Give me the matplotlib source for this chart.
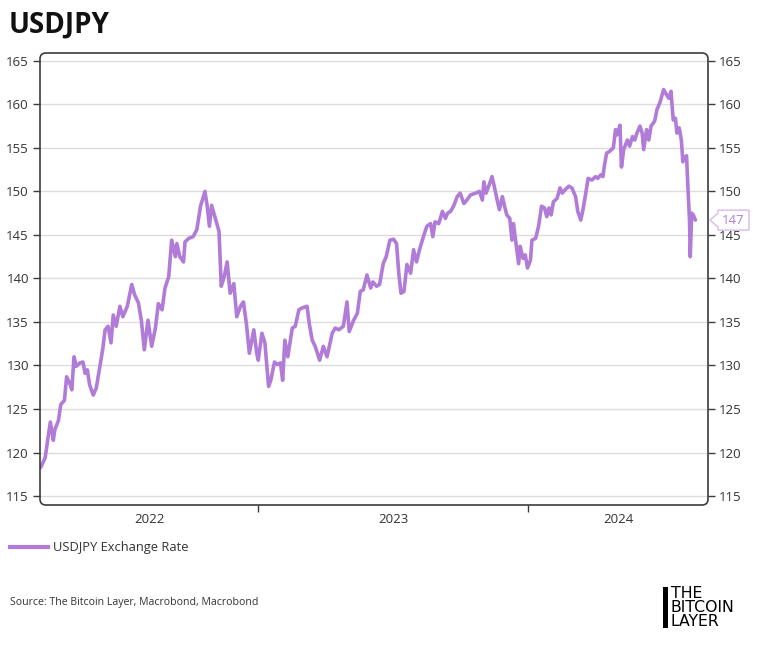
import matplotlib
matplotlib.use("Agg")
import matplotlib.pyplot as plt
import pandas as pd
from matplotlib.patches import FancyBboxPatch, Polygon, Rectangle
from matplotlib.transforms import IdentityTransform, blended_transform_factory
from matplotlib.lines import Line2D

plt.rcParams['font.family'] = ['Open Sans', 'DejaVu Sans']

title = "USDJPY"
series_name = "USDJPY Exchange Rate"
source_text = "Source: The Bitcoin Layer, Macrobond, Macrobond"
logo_lines = ["THE", "BITCOIN", "LAYER"]
yticks = [115, 120, 125, 130, 135, 140, 145, 150, 155, 160, 165]
year_labels = ["2022", "2023", "2024"]

dates = [
    "2022-03-13", "2022-03-19", "2022-03-23", "2022-03-26", "2022-03-30", "2022-04-01",
    "2022-04-06", "2022-04-09", "2022-04-14", "2022-04-17", "2022-04-21", "2022-04-24",
    "2022-04-27", "2022-04-30", "2022-05-05", "2022-05-09", "2022-05-12", "2022-05-15",
    "2022-05-18", "2022-05-23", "2022-05-27", "2022-06-01", "2022-06-05", "2022-06-08",
    "2022-06-12", "2022-06-16", "2022-06-19", "2022-06-23", "2022-06-28", "2022-07-02",
    "2022-07-08", "2022-07-14", "2022-07-18", "2022-07-23", "2022-07-27", "2022-07-31",
    "2022-08-05", "2022-08-10", "2022-08-15", "2022-08-19", "2022-08-24", "2022-08-28",
    "2022-09-02", "2022-09-06", "2022-09-11", "2022-09-13", "2022-09-17", "2022-09-22",
    "2022-09-24", "2022-09-29", "2022-10-05", "2022-10-10", "2022-10-15", "2022-10-21",
    "2022-10-24", "2022-10-27", "2022-10-30", "2022-11-02", "2022-11-06", "2022-11-09",
    "2022-11-12", "2022-11-16", "2022-11-20", "2022-11-24", "2022-11-29", "2022-12-03",
    "2022-12-08", "2022-12-12", "2022-12-16", "2022-12-20", "2022-12-26", "2022-12-30",
    "2023-01-01", "2023-01-06", "2023-01-10", "2023-01-15", "2023-01-18", "2023-01-23",
    "2023-01-27", "2023-01-31", "2023-02-03", "2023-02-06", "2023-02-10", "2023-02-16",
    "2023-02-20", "2023-02-25", "2023-03-01", "2023-03-08", "2023-03-11", "2023-03-15",
    "2023-03-19", "2023-03-25", "2023-03-30", "2023-04-04", "2023-04-11", "2023-04-15",
    "2023-04-20", "2023-04-26", "2023-05-01", "2023-05-04", "2023-05-10", "2023-05-15",
    "2023-05-19", "2023-05-23", "2023-05-28", "2023-06-02", "2023-06-05", "2023-06-10",
    "2023-06-14", "2023-06-19", "2023-06-23", "2023-06-28", "2023-07-03", "2023-07-07",
    "2023-07-10", "2023-07-13", "2023-07-17", "2023-07-21", "2023-07-26", "2023-07-30",
    "2023-08-03", "2023-08-07", "2023-08-13", "2023-08-17", "2023-08-22", "2023-08-25",
    "2023-08-28", "2023-09-02", "2023-09-07", "2023-09-11", "2023-09-14", "2023-09-18",
    "2023-09-22", "2023-09-27", "2023-10-01", "2023-10-06", "2023-10-10", "2023-10-15",
    "2023-10-22", "2023-10-27", "2023-10-31", "2023-11-02", "2023-11-05", "2023-11-09",
    "2023-11-13", "2023-11-16", "2023-11-20", "2023-11-23", "2023-11-27", "2023-11-30",
    "2023-12-03", "2023-12-07", "2023-12-10", "2023-12-12", "2023-12-16", "2023-12-19",
    "2023-12-21", "2023-12-25", "2023-12-28", "2023-12-31", "2024-01-04", "2024-01-06",
    "2024-01-11", "2024-01-15", "2024-01-19", "2024-01-23", "2024-01-26", "2024-01-29",
    "2024-02-01", "2024-02-04", "2024-02-09", "2024-02-13", "2024-02-16", "2024-02-20",
    "2024-02-25", "2024-02-29", "2024-03-05", "2024-03-08", "2024-03-12", "2024-03-15",
    "2024-03-18", "2024-03-22", "2024-03-27", "2024-04-01", "2024-04-04", "2024-04-08",
    "2024-04-11", "2024-04-13", "2024-04-16", "2024-04-20", "2024-04-25", "2024-04-28",
    "2024-04-30", "2024-05-04", "2024-05-06", "2024-05-09", "2024-05-14", "2024-05-17",
    "2024-05-21", "2024-05-24", "2024-05-27", "2024-05-31", "2024-06-03", "2024-06-05",
    "2024-06-09", "2024-06-12", "2024-06-15", "2024-06-20", "2024-06-23", "2024-06-27",
    "2024-07-02", "2024-07-06", "2024-07-09", "2024-07-12", "2024-07-15", "2024-07-18",
    "2024-07-20", "2024-07-23", "2024-07-26", "2024-07-28", "2024-07-30", "2024-08-02",
    "2024-08-04", "2024-08-06", "2024-08-07", "2024-08-09", "2024-08-11", "2024-08-14",
]

values = [
    118.3, 119.4, 121.8, 123.5, 121.4, 122.6,
    123.7, 125.5, 126.0, 128.7, 128.0, 127.2,
    131.0, 129.9, 130.3, 130.4, 129.1, 129.5,
    127.8, 126.6, 127.4, 129.9, 132.0, 134.1,
    134.5, 132.6, 135.8, 134.5, 136.8, 135.6,
    136.8, 139.3, 138.1, 137.2, 135.2, 131.8,
    135.2, 132.2, 134.3, 137.1, 136.4, 138.9,
    140.2, 144.4, 142.5, 144.0, 142.5, 141.9,
    144.2, 144.6, 144.8, 145.6, 148.3, 150.0,
    148.3, 146.0, 148.4, 147.5, 146.3, 145.4,
    139.1, 140.2, 141.9, 138.3, 139.4, 135.6,
    136.8, 137.3, 134.8, 131.4, 134.1, 131.4,
    130.6, 133.7, 132.6, 127.6, 128.3, 130.4,
    130.1, 130.3, 128.3, 132.9, 131.0, 134.3,
    134.5, 136.4, 136.6, 136.8, 134.8, 132.9,
    132.2, 130.6, 132.2, 131.0, 133.7, 134.3,
    134.1, 134.5, 137.3, 133.9, 135.2, 136.0,
    138.5, 138.7, 140.4, 138.9, 139.6, 139.1,
    139.3, 141.7, 142.5, 144.4, 144.5, 144.0,
    140.6, 138.3, 138.5, 141.6, 140.6, 143.3,
    141.9, 143.3, 145.0, 146.0, 146.3, 144.8,
    146.5, 146.3, 147.7, 146.9, 147.5, 147.7,
    148.3, 149.4, 149.8, 148.6, 149.0, 149.6,
    149.8, 150.0, 149.0, 151.1, 149.8, 150.7,
    151.7, 150.6, 149.0, 147.9, 149.4, 148.3,
    147.3, 146.9, 144.4, 146.3, 143.7, 141.7,
    143.7, 142.3, 142.7, 141.2, 142.1, 144.4,
    144.6, 146.0, 148.3, 148.1, 147.1, 148.1,
    147.3, 148.8, 149.2, 150.4, 149.8, 150.2,
    150.6, 150.4, 149.4, 147.7, 146.7, 147.9,
    149.4, 151.5, 151.3, 151.7, 151.5, 151.9,
    151.7, 153.0, 154.4, 154.6, 155.0, 157.1,
    156.5, 157.6, 152.8, 154.8, 155.9, 155.2,
    156.3, 155.9, 156.7, 157.5, 156.7, 154.8,
    157.1, 155.9, 157.5, 158.1, 159.4, 160.2,
    161.7, 161.1, 160.7, 161.5, 158.2, 158.4,
    156.7, 157.3, 155.9, 153.4, 153.8, 154.1,
    150.2, 146.7, 142.5, 147.5, 147.3, 146.7,
]

LINE_C = "#B07CD8"
TXT_C = "#333333"
FRAME_C = "#3c3c3c"
W, H = 758, 657

fig = plt.figure(figsize=(W / 100, H / 100), dpi=100)
fig.patch.set_facecolor("white")
ax_l, ax_r, ax_t, ax_b = 40, 708, 53, 505
ax = fig.add_axes([ax_l / W, 1 - ax_b / H, (ax_r - ax_l) / W, (ax_b - ax_t) / H])
ax.set_facecolor("none")

x = pd.to_datetime(dates)
line, = ax.plot(x, values, color=LINE_C, lw=2.6, solid_joinstyle="round",
                solid_capstyle="round", zorder=3)

xmin, xmax = pd.Timestamp("2022-03-12"), pd.Timestamp("2024-08-31")
ax.set_xlim(xmin, xmax)
ax.set_ylim(113.97, 165.9)

for s in ax.spines.values():
    s.set_visible(False)

ax.set_yticks(yticks)
ax.set_yticklabels([str(v) for v in yticks])
ax.yaxis.grid(True, color="#dcdcdc", lw=1.0)
ax.set_axisbelow(True)
ax.tick_params(axis="y", left=True, right=True, labelleft=True, labelright=True,
               length=5, width=1, color=FRAME_C, labelsize=9.5, labelcolor=TXT_C, pad=3)

year_bounds = [pd.Timestamp(f"{y}-01-01") for y in (2023, 2024)]
ax.set_xticks(year_bounds)
ax.set_xticklabels([])
ax.tick_params(axis="x", length=5, width=1, color=FRAME_C)

trans = blended_transform_factory(ax.transData, ax.transAxes)
for lab in year_labels:
    y = int(lab)
    start = max(xmin, pd.Timestamp(f"{y}-01-01"))
    end = min(xmax, pd.Timestamp(f"{y + 1}-01-01"))
    center = start + (end - start) / 2
    ax.text(center, -0.018, lab, transform=trans, ha="center", va="top",
            fontsize=9.5, color=TXT_C)

# rounded frame
bb = ax.get_window_extent()
frame = FancyBboxPatch((bb.x0, bb.y0), bb.width, bb.height,
                       boxstyle="round,pad=0,rounding_size=6",
                       transform=IdentityTransform(), fill=False,
                       ec=FRAME_C, lw=1.2, zorder=5)
fig.add_artist(frame)

# last value callout on right axis
last_val = values[-1]
_, yc = ax.transData.transform((ax.get_xlim()[1], last_val))
xr = bb.x1
tip = xr + 2
bl, br = xr + 10, xr + 41
hh = 10
pts = [(tip, yc), (bl, yc + 7), (bl, yc + hh), (br, yc + hh), (br, yc - hh),
       (bl, yc - hh), (bl, yc - 7)]
callout = Polygon(pts, closed=True, transform=IdentityTransform(), fc="white",
                  ec="#d8b9ee", lw=1.0, zorder=6)
fig.add_artist(callout)
fig.text((bl + br) / 2 / W, yc / H, f"{last_val:.0f}", ha="center", va="center",
         fontsize=9.5, color=LINE_C, zorder=7)

# title
fig.text(9 / W, 1 - 33 / H, title, fontsize=20, fontweight="bold",
         color="#111111", va="baseline")

# legend
fig.add_artist(Line2D([10 / W, 48 / W], [1 - 547 / H] * 2, transform=fig.transFigure,
                      color=LINE_C, lw=3))
fig.text(53 / W, 1 - 547 / H, series_name, fontsize=9.3, color=TXT_C, va="center")

# source
fig.text(10 / W, 1 - 603 / H, source_text, fontsize=7.6, color=TXT_C, va="center")

# logo
fig.add_artist(Rectangle((663 / W, 1 - 628 / H), 5 / W, 41 / H,
                         transform=fig.transFigure, color="black", lw=0))
for i, t in enumerate(logo_lines):
    fig.text(671 / W, 1 - (593 + 14.3 * i) / H, t, fontsize=11.3,
             family="DejaVu Sans", color="black", va="center")

fig.savefig("out.png", dpi=100, facecolor="white")
